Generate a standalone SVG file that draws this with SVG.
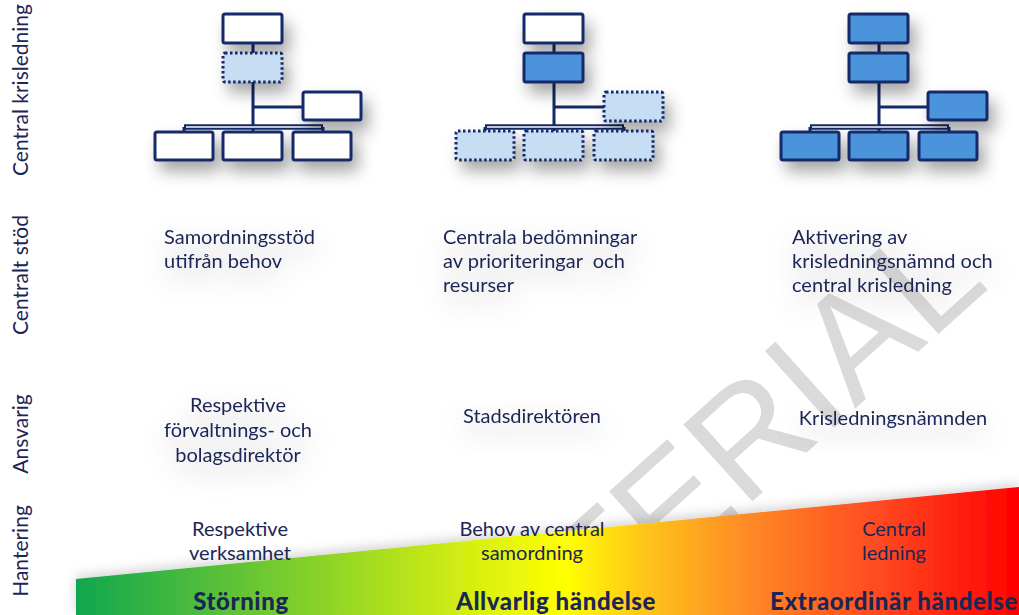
<svg xmlns="http://www.w3.org/2000/svg" width="1019" height="615" viewBox="0 0 1019 615">
<defs>
<style>
.lbl{font-family:Lato,"Open Sans","DejaVu Sans",sans-serif;font-size:21px;fill:#1b2656}
.txt{font-family:Lato,"Open Sans","DejaVu Sans",sans-serif;font-size:20px;fill:#1b2656}
.big{font-family:Lato,"Open Sans","DejaVu Sans",sans-serif;font-size:24px;font-weight:900;letter-spacing:0.6px;fill:#1b2656}
.mid{text-anchor:middle}
.box{stroke:#12296b;stroke-width:3}
.empty{fill:#ffffff}
.solid{fill:#4b93db}
.dotted{fill:#c7ddf4;stroke-dasharray:2.5 2.5}
.ln{stroke:#12296b;stroke-width:3;fill:none}
.bar{stroke:#12296b;stroke-width:5.5;fill:none}
.barin{stroke:#ffffff;stroke-width:1.4;fill:none}
.wm{font-family:"Liberation Sans",Arial,sans-serif;font-size:150px;fill:#dadada}
</style>
<linearGradient id="heat" gradientUnits="userSpaceOnUse" x1="76" y1="0" x2="1019" y2="0">
<stop offset="0" stop-color="#10a64f"/>
<stop offset="0.25" stop-color="#86d12a"/>
<stop offset="0.42" stop-color="#d8ef10"/>
<stop offset="0.52" stop-color="#ffff00"/>
<stop offset="0.6" stop-color="#ffc61a"/>
<stop offset="0.7" stop-color="#ff9025"/>
<stop offset="0.85" stop-color="#ff4a22"/>
<stop offset="1" stop-color="#ff0000"/>
</linearGradient>
<filter id="sh" x="-30%" y="-30%" width="180%" height="200%">
<feDropShadow dx="6" dy="10" stdDeviation="8" flood-color="#000" flood-opacity="0.35"/>
</filter>
<filter id="halo" x="-30%" y="-60%" width="160%" height="260%">
<feGaussianBlur in="SourceAlpha" stdDeviation="13" result="b"/>
<feOffset dy="10" in="b" result="o"/>
<feFlood flood-color="#000" flood-opacity="0.28"/>
<feComposite in2="o" operator="in" result="s"/>
<feMerge><feMergeNode in="s"/><feMergeNode in="SourceGraphic"/></feMerge>
</filter>
<filter id="wsh" x="-5%" y="-50%" width="110%" height="200%">
<feDropShadow dx="0" dy="-3" stdDeviation="6" flood-color="#000" flood-opacity="0.18"/>
</filter>
</defs>
<rect width="1019" height="615" fill="#ffffff"/>

<!-- watermark -->
<text class="wm mid" transform="translate(796,462) rotate(-42)">TERIAL</text>

<!-- gradient wedge -->
<polygon id="wedge" points="76,579 1019,487 1019,615 76,615" fill="url(#heat)" filter="url(#wsh)"/>

<!-- row labels -->
<g id="row-labels">
<text class="lbl mid" transform="translate(28,90) rotate(-90)">Central krisledning</text>
<text class="lbl mid" transform="translate(28,275) rotate(-90)">Centralt stöd</text>
<text class="lbl mid" transform="translate(28,434) rotate(-90)">Ansvarig</text>
<text class="lbl mid" transform="translate(28,551) rotate(-90)">Hantering</text>
</g>

<!-- connectors -->
<g id="connectors">
<g transform="translate(0,0)">
<path class="ln" d="M253,43V53M253,82V127M253,107H303M184,127V133M323,127V133M253,127V133"/>
<path class="bar" d="M184,127H323"/><path class="barin" d="M186,127H321"/>
</g>
<g transform="translate(301,0)">
<path class="ln" d="M253,43V53M253,82V127M253,107H303M184,127V133M323,127V133M253,127V133"/>
<path class="bar" d="M184,127H323"/><path class="barin" d="M186,127H321"/>
</g>
<g transform="translate(626,0)">
<path class="ln" d="M253,43V53M253,82V127M253,107H303M184,127V133M323,127V133M253,127V133"/>
<path class="bar" d="M184,127H323"/><path class="barin" d="M186,127H321"/>
</g>
</g>

<!-- org chart 1 -->
<g id="chart1" filter="url(#sh)">
<g id="c1-top"><rect class="box empty" x="223" y="14" width="59" height="29" rx="2"/></g>
<g id="c1-mid"><rect class="box dotted" x="223" y="53" width="59" height="29" rx="2"/></g>
<g id="c1-right"><rect class="box empty" x="303" y="92" width="58" height="28" rx="2"/></g>
<g id="c1-b1"><rect class="box empty" x="155" y="132" width="58" height="28" rx="2"/></g>
<g id="c1-b2"><rect class="box empty" x="223" y="132" width="59" height="28" rx="2"/></g>
<g id="c1-b3"><rect class="box empty" x="293" y="132" width="58" height="28" rx="2"/></g>
</g>

<!-- org chart 2 -->
<g id="chart2" filter="url(#sh)" transform="translate(301,0)">
<g id="c2-top"><rect class="box empty" x="223" y="14" width="59" height="29" rx="2"/></g>
<g id="c2-mid"><rect class="box solid" x="223" y="53" width="59" height="29" rx="2"/></g>
<g id="c2-right"><rect class="box dotted" x="303" y="92" width="59" height="29" rx="2"/></g>
<g id="c2-b1"><rect class="box dotted" x="155" y="131" width="58" height="29" rx="2"/></g>
<g id="c2-b2"><rect class="box dotted" x="223" y="131" width="59" height="29" rx="2"/></g>
<g id="c2-b3"><rect class="box dotted" x="293" y="131" width="59" height="29" rx="2"/></g>
</g>

<!-- org chart 3 -->
<g id="chart3" filter="url(#sh)" transform="translate(626,0)">
<g id="c3-top"><rect class="box solid" x="223" y="14" width="59" height="29" rx="2"/></g>
<g id="c3-mid"><rect class="box solid" x="223" y="53" width="59" height="29" rx="2"/></g>
<g id="c3-right"><rect class="box solid" x="302" y="92" width="59" height="28" rx="2"/></g>
<g id="c3-b1"><rect class="box solid" x="155" y="132" width="58" height="28" rx="2"/></g>
<g id="c3-b2"><rect class="box solid" x="223" y="132" width="59" height="28" rx="2"/></g>
<g id="c3-b3"><rect class="box solid" x="293" y="132" width="58" height="28" rx="2"/></g>
</g>

<!-- Centralt stöd row -->
<g id="stod1" filter="url(#halo)">
<text class="txt" x="164" y="244">Samordningsstöd</text>
<text class="txt" x="164" y="268">utifrån behov</text>
</g>
<g id="stod2" filter="url(#halo)">
<text class="txt" x="443" y="244">Centrala bedömningar</text>
<text class="txt" x="443" y="268" xml:space="preserve">av prioriteringar  och</text>
<text class="txt" x="443" y="292">resurser</text>
</g>
<g id="stod3" filter="url(#halo)">
<text class="txt" x="792" y="244">Aktivering av</text>
<text class="txt" x="792" y="268">krisledningsnämnd och</text>
<text class="txt" x="792" y="292">central krisledning</text>
</g>

<!-- Ansvarig row -->
<g id="ansv1" filter="url(#halo)">
<text class="txt mid" x="238" y="412">Respektive</text>
<text class="txt mid" x="238" y="437">förvaltnings- och</text>
<text class="txt mid" x="238" y="462">bolagsdirektör</text>
</g>
<g id="ansv2" filter="url(#halo)">
<text class="txt mid" x="532" y="423">Stadsdirektören</text>
</g>
<g id="ansv3" filter="url(#halo)">
<text class="txt mid" x="893" y="425">Krisledningsnämnden</text>
</g>

<!-- Hantering row -->
<g id="hant1">
<text class="txt mid" x="240" y="536">Respektive</text>
<text class="txt mid" x="240" y="560">verksamhet</text>
</g>
<g id="hant2">
<text class="txt mid" x="532" y="536">Behov av central</text>
<text class="txt mid" x="532" y="560">samordning</text>
</g>
<g id="hant3">
<text class="txt mid" x="894" y="536">Central</text>
<text class="txt mid" x="894" y="560">ledning</text>
</g>

<!-- levels -->
<g id="levels">
<text class="big mid" x="241" y="610">Störning</text>
<text class="big mid" x="556" y="610">Allvarlig händelse</text>
<text class="big" x="770" y="610">Extraordinär händelse</text>
</g>
</svg>
